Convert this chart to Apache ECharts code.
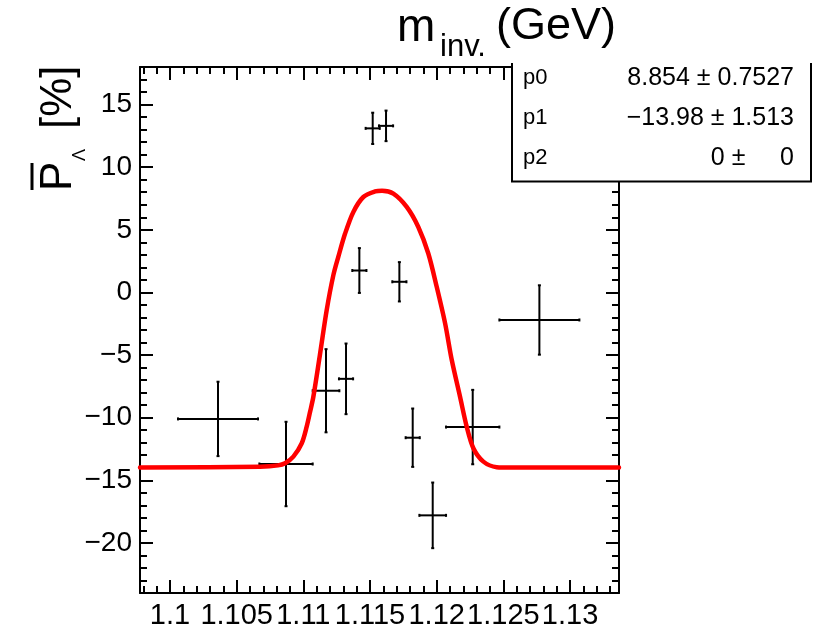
<!DOCTYPE html>
<html>
<head>
<meta charset="utf-8">
<script src="https://cdn.jsdelivr.net/npm/echarts@6/dist/echarts.min.js"></script>
<style>
html,body{margin:0;padding:0;background:#fff;}
#chart{width:831px;height:627px;}
</style>
</head>
<body>
<div id="chart"></div>
<script>
// ---- data ----
const pointX    = [1.1036, 1.1087, 1.1117, 1.1132, 1.1142, 1.1152, 1.1162, 1.1172, 1.1182, 1.1197, 1.1227, 1.1277];
const pointY    = [-10.1, -13.7, -7.85, -6.9, 1.75, 13.1, 13.3, 0.85, -11.6, -17.8, -10.75, -2.2];
const pointXErr = [0.0030, 0.0020, 0.0010, 0.00053, 0.00053, 0.00053, 0.00053, 0.00053, 0.00053, 0.0010, 0.0020, 0.0030];
const pointYErr = [2.97, 3.37, 3.32, 2.82, 1.79, 1.25, 1.22, 1.57, 2.33, 2.62, 2.97, 2.77];

const fitX = [1.09775, 1.10675, 1.1081, 1.10863, 1.10925, 1.10988, 1.11025, 1.1105, 1.11075, 1.11125, 1.11175, 1.11225, 1.11262, 1.11313, 1.11375, 1.1145, 1.11538, 1.1159, 1.11675, 1.11775, 1.11862, 1.11937, 1.12, 1.12063, 1.12113, 1.12175, 1.12225, 1.12275, 1.1235, 1.1245, 1.1255, 1.13367];
const fitY = [-13.98, -13.91, -13.81, -13.64, -13.11, -12.04, -10.72, -9.55, -8.33, -4.92, -1.41, 1.38, 2.84, 4.70, 6.43, 7.62, 8.06, 8.12, 7.89, 6.83, 5.23, 3.11, 0.45, -2.47, -5.40, -8.33, -10.72, -12.44, -13.51, -13.95, -13.98, -13.98];

const xTickValues = [1.1, 1.105, 1.11, 1.115, 1.12, 1.125, 1.13];
const xTickLabels = ['1.1', '1.105', '1.11', '1.115', '1.12', '1.125', '1.13'];
const yTickValues = [-20, -15, -10, -5, 0, 5, 10, 15];
const yTickLabels = ['\u221220', '\u221215', '\u221210', '\u22125', '0', '5', '10', '15'];

const statNames  = ['p0', 'p1', 'p2'];
const statValues = ['8.854 \u00b1 0.7527', '\u221213.98 \u00b1 1.513', '0 \u00b1     0'];

const X_MIN = 1.09775, X_MAX = 1.13367, Y_MIN = -24, Y_MAX = 18;

// minor tick positions (axis decoration)
const xMinor = [];
for (let i = 1098; i <= 1133; i++) { if (i % 5 !== 0) xMinor.push(i / 1000); }
const yMinor = [];
for (let v = -24; v <= 18; v++) { if (v % 5 !== 0) yMinor.push(v); }

const FONT = '"Liberation Sans", Arial, Helvetica, sans-serif';
const AX = {color: '#000', width: 2};

function xAxisDef(pos, ticks, len, labels, showLine) {
  return {
    type: 'value', min: X_MIN, max: X_MAX, position: pos,
    axisLine: {show: showLine, onZero: false, lineStyle: AX},
    axisTick: {show: true, inside: true, length: len, customValues: ticks, lineStyle: AX},
    axisLabel: labels ? {
      show: true, customValues: xTickValues, fontSize: 29, fontFamily: FONT, color: '#000', margin: 8,
      formatter: v => { const i = xTickValues.findIndex(t => Math.abs(t - v) < 1e-7); return i >= 0 ? xTickLabels[i] : ''; }
    } : {show: false},
    splitLine: {show: false}
  };
}
function yAxisDef(pos, ticks, len, labels, showLine) {
  return {
    type: 'value', min: Y_MIN, max: Y_MAX, position: pos,
    axisLine: {show: showLine, onZero: false, lineStyle: AX},
    axisTick: {show: true, inside: true, length: len, customValues: ticks, lineStyle: AX},
    axisLabel: labels ? {
      show: true, customValues: yTickValues, fontSize: 28, fontFamily: FONT, color: '#000', margin: 8,
      formatter: v => { const i = yTickValues.findIndex(t => Math.abs(t - v) < 1e-7); return i >= 0 ? yTickLabels[i] : ''; }
    } : {show: false},
    splitLine: {show: false}
  };
}

const errData = pointX.map((x, i) => [x, pointY[i], pointXErr[i], pointYErr[i]]);
const fitData = fitX.map((x, i) => [x, fitY[i]]);

const chart = echarts.init(document.getElementById('chart'), null, {renderer: 'canvas'});

const statGraphics = [];
statNames.forEach((n, i) => {
  statGraphics.push({type: 'text', x: 523, y: 78 + i * 40, z: 102,
    style: {text: n, font: '22px ' + FONT, fill: '#000', align: 'left', verticalAlign: 'middle'}});
  statGraphics.push({type: 'text', x: 794, y: 78 + i * 40, z: 102,
    style: {text: statValues[i], font: '25px ' + FONT, fill: '#000', align: 'right', verticalAlign: 'middle'}});
});

chart.setOption({
  animation: false,
  backgroundColor: '#fff',
  grid: {left: 140, top: 67, width: 479, height: 526, containLabel: false, outerBoundsMode: 'none'},
  xAxis: [
    xAxisDef('bottom', xTickValues, 13, true, true),
    xAxisDef('bottom', xMinor, 7, false, false),
    xAxisDef('top', xTickValues, 13, false, true),
    xAxisDef('top', xMinor, 7, false, false)
  ],
  yAxis: [
    yAxisDef('left', yTickValues, 13, true, true),
    yAxisDef('left', yMinor, 7, false, false),
    yAxisDef('right', yTickValues, 13, false, true),
    yAxisDef('right', yMinor, 7, false, false)
  ],
  series: [
    {
      type: 'custom', xAxisIndex: 0, yAxisIndex: 0, data: errData, z: 3,
      renderItem: function (params, api) {
        const x = api.value(0), y = api.value(1), xe = api.value(2), ye = api.value(3);
        const a = api.coord([x - xe, y]), b = api.coord([x + xe, y]);
        const c = api.coord([x, y + ye]), d = api.coord([x, y - ye]);
        const st = {stroke: '#000', lineWidth: 2};
        return {type: 'group', children: [
          {type: 'line', shape: {x1: a[0], y1: a[1], x2: b[0], y2: b[1]}, style: st},
          {type: 'line', shape: {x1: c[0], y1: c[1], x2: d[0], y2: d[1]}, style: st},
          {type: 'line', shape: {x1: a[0], y1: a[1] - 1.5, x2: a[0], y2: a[1] + 1.5}, style: st},
          {type: 'line', shape: {x1: b[0], y1: b[1] - 1.5, x2: b[0], y2: b[1] + 1.5}, style: st},
          {type: 'line', shape: {x1: c[0] - 1.5, y1: c[1], x2: c[0] + 1.5, y2: c[1]}, style: st},
          {type: 'line', shape: {x1: d[0] - 1.5, y1: d[1], x2: d[0] + 1.5, y2: d[1]}, style: st}
        ]};
      }
    },
    {
      type: 'line', xAxisIndex: 0, yAxisIndex: 0, data: fitData, z: 4,
      smooth: 0.3, showSymbol: false, symbol: 'none',
      lineStyle: {color: '#ff0000', width: 4.5, join: 'round', cap: 'round'}
    }
  ],
  graphic: [
    // x-axis title at top
    {type: 'text', x: 397, y: 28, z: 100, style: {text: 'm', font: '46px ' + FONT, fill: '#000', align: 'left', verticalAlign: 'middle'}},
    {type: 'text', x: 440, y: 47, z: 100, style: {text: 'inv.', font: '31px ' + FONT, fill: '#000', align: 'left', verticalAlign: 'middle'}},
    {type: 'text', x: 496, y: 27, z: 100, style: {text: '(GeV)', font: '45px ' + FONT, fill: '#000', align: 'left', verticalAlign: 'middle'}},
    // y-axis title (rotated)
    {type: 'group', x: 81, y: 191, rotation: Math.PI / 2, z: 100, children: [
      {type: 'text', x: 0, y: 0, style: {text: 'P', font: '44px ' + FONT, fill: '#000', align: 'left', verticalAlign: 'bottom'}},
      {type: 'line', shape: {x1: 1, y1: -49, x2: 28, y2: -49}, style: {stroke: '#000', lineWidth: 3}},
      {type: 'text', x: 30, y: 8, style: {text: '\u039b', font: '18px ' + FONT, fill: '#000', align: 'left', verticalAlign: 'bottom'}},
      {type: 'text', x: 62, y: 0, style: {text: '[%]', font: '44px ' + FONT, fill: '#000', align: 'left', verticalAlign: 'bottom'}}
    ]},
    // stats box
    {type: 'rect', shape: {x: 512, y: 63, width: 299, height: 119}, style: {fill: '#fff'}, z: 100},
    {type: 'polyline', shape: {points: [[512, 63], [512, 181.5], [811, 181.5], [811, 63]]}, style: {stroke: '#000', lineWidth: 2, fill: null}, z: 101}
  ].concat(statGraphics)
});
</script>
</body>
</html>
